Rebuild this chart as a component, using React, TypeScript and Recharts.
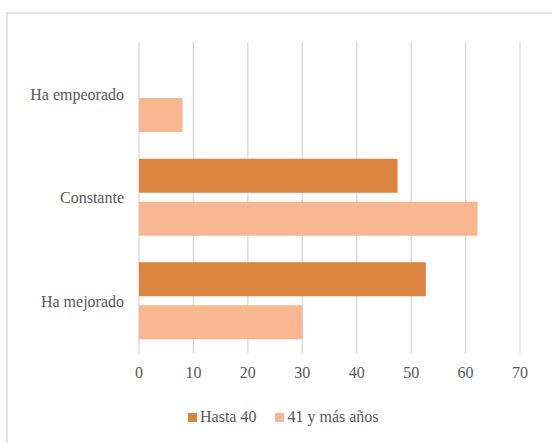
import { Bar, BarChart, CartesianGrid, XAxis, YAxis } from "recharts";

const categories = ["Ha empeorado", "Constante", "Ha mejorado"];
const hasta40 = [0, 47.5, 52.7];
const mas41 = [8, 62.2, 30];
const xTicks = [0, 10, 20, 30, 40, 50, 60, 70];

const series = [
  { key: "hasta40", name: "Hasta 40", color: "#DA843E" },
  { key: "mas41", name: "41 y más años", color: "#F9B791" },
];

const data = categories.map((name, i) => ({
  name,
  hasta40: hasta40[i],
  mas41: mas41[i],
}));

const font = "'Liberation Serif', 'Times New Roman', serif";
const textColor = "#595959";

export default function App() {
  return (
    <div
      style={{
        position: "absolute",
        left: 0,
        top: 0,
        width: 552,
        height: 443,
        overflow: "hidden",
        background: "#fff",
        fontFamily: font,
      }}
    >
      <div
        style={{
          position: "absolute",
          left: 6,
          top: 12,
          width: 580,
          height: 480,
          border: "2px solid #e2e2e2",
        }}
      />
      <BarChart
        width={552}
        height={443}
        data={data}
        layout="vertical"
        margin={{ top: 42, right: 32, left: 0, bottom: 60 }}
        barCategoryGap={13}
        barGap={9}
        style={{ position: "absolute", left: 0, top: 0 }}
      >
        <CartesianGrid horizontal={false} stroke="#d9d9d9" strokeWidth={1.3} />
        <XAxis
          type="number"
          domain={[0, 70]}
          ticks={xTicks}
          axisLine={false}
          tickLine={false}
          tickSize={0}
          tickMargin={14}
          height={30}
          tick={{ fill: textColor, fontSize: 16, fontFamily: font }}
        />
        <YAxis
          type="category"
          dataKey="name"
          width={139}
          axisLine={false}
          tickLine={false}
          tickSize={0}
          tickMargin={15}
          tick={{ fill: textColor, fontSize: 16, fontFamily: font }}
        />
        {series.map((s) => (
          <Bar
            key={s.key}
            dataKey={s.key}
            name={s.name}
            fill={s.color}
            isAnimationActive={false}
          />
        ))}
      </BarChart>
      <div
        style={{
          position: "absolute",
          left: 188,
          top: 406,
          display: "flex",
          gap: 19,
          fontSize: 16,
          color: textColor,
          lineHeight: "22px",
        }}
      >
        {series.map((s) => (
          <div key={s.key} style={{ display: "flex", alignItems: "center" }}>
            <span
              style={{
                width: 9,
                height: 9,
                background: s.color,
                marginRight: 3,
                display: "inline-block",
              }}
            />
            <span>{s.name}</span>
          </div>
        ))}
      </div>
    </div>
  );
}
